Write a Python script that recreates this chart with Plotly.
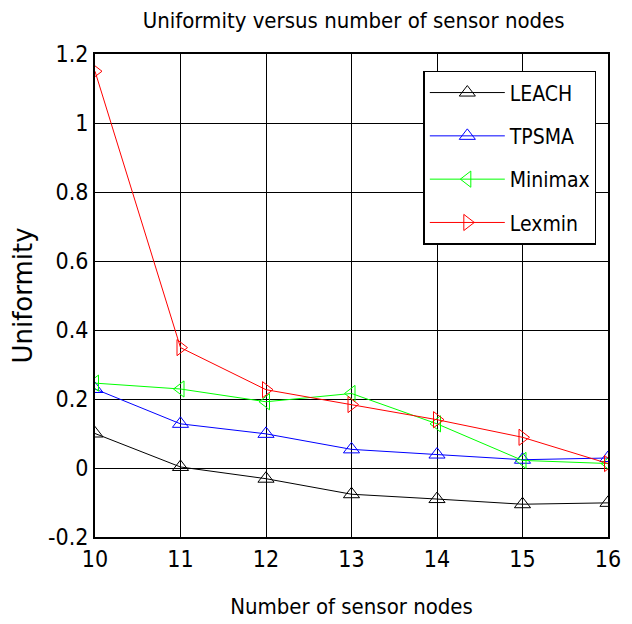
import plotly.graph_objects as go

nodes = [10, 11, 12, 13, 14, 15, 16]
leach = [0.100, 0.003, -0.031, -0.076, -0.090, -0.105, -0.101]
tpsma = [0.229, 0.128, 0.099, 0.054, 0.039, 0.024, 0.029]
minimax = [0.246, 0.229, 0.192, 0.216, 0.128, 0.022, 0.013]
lexmin = [1.150, 0.349, 0.227, 0.184, 0.140, 0.089, 0.013]

ytick_vals = [-0.2, 0, 0.2, 0.4, 0.6, 0.8, 1.0, 1.2]
ytick_text = ["-0.2", "0", "0.2", "0.4", "0.6", "0.8", "1", "1.2"]
xtick_vals = nodes
xtick_text = ["10", "11", "12", "13", "14", "15", "16"]

NARROW = "Liberation Sans Narrow, Arial Narrow, DejaVu Sans Condensed, sans-serif"

series = [
    ("LEACH", leach, "black", "triangle-up-open"),
    ("TPSMA", tpsma, "blue", "triangle-up-open"),
    ("Minimax", minimax, "#00ff00", "triangle-left-open"),
    ("Lexmin", lexmin, "red", "triangle-right-open"),
]

fig = go.Figure()
for name, vals, color, sym in series:
    fig.add_trace(go.Scatter(
        x=nodes, y=vals, name=name, mode="lines+markers",
        legendgroup=name,
        line=dict(color=color, width=1),
        marker=dict(symbol=sym, size=14, color=color, line=dict(width=1, color=color)),
    ))

fig.update_layout(
    width=632, height=624,
    margin=dict(l=82, r=32, t=46, b=95),
    paper_bgcolor="white", plot_bgcolor="white",
    title=dict(text="Uniformity versus number of sensor nodes", x=0.547, xanchor="center",
               y=0.981, yanchor="middle",
               font=dict(family=NARROW, size=22, color="black")),
    showlegend=True,
    legend=dict(x=0.64, y=0.965, xanchor="left", yanchor="top",
                bgcolor="white", bordercolor="black", borderwidth=1.5,
                font=dict(family=NARROW, size=21, color="black"),
                tracegroupgap=13, itemwidth=75),
    xaxis=dict(range=[10, 16], tickvals=xtick_vals, ticktext=xtick_text,
               showgrid=True, gridcolor="black", gridwidth=1,
               showline=True, linecolor="black", linewidth=2, mirror=True,
               ticks="", zeroline=False,
               tickfont=dict(family=NARROW, size=23, color="black"),
               title=dict(text="Number of sensor nodes", standoff=28,
                          font=dict(family=NARROW, size=22, color="black"))),
    yaxis=dict(range=[-0.2, 1.2], tickvals=ytick_vals, ticktext=ytick_text,
               showgrid=True, gridcolor="black", gridwidth=1,
               showline=True, linecolor="black", linewidth=2, mirror=True,
               ticks="", zeroline=False,
               tickfont=dict(family=NARROW, size=23, color="black"),
               title=dict(text="Uniformity", standoff=10,
                          font=dict(family="DejaVu Sans, sans-serif", size=26, color="black"))),
)

fig.write_html("out.html")
